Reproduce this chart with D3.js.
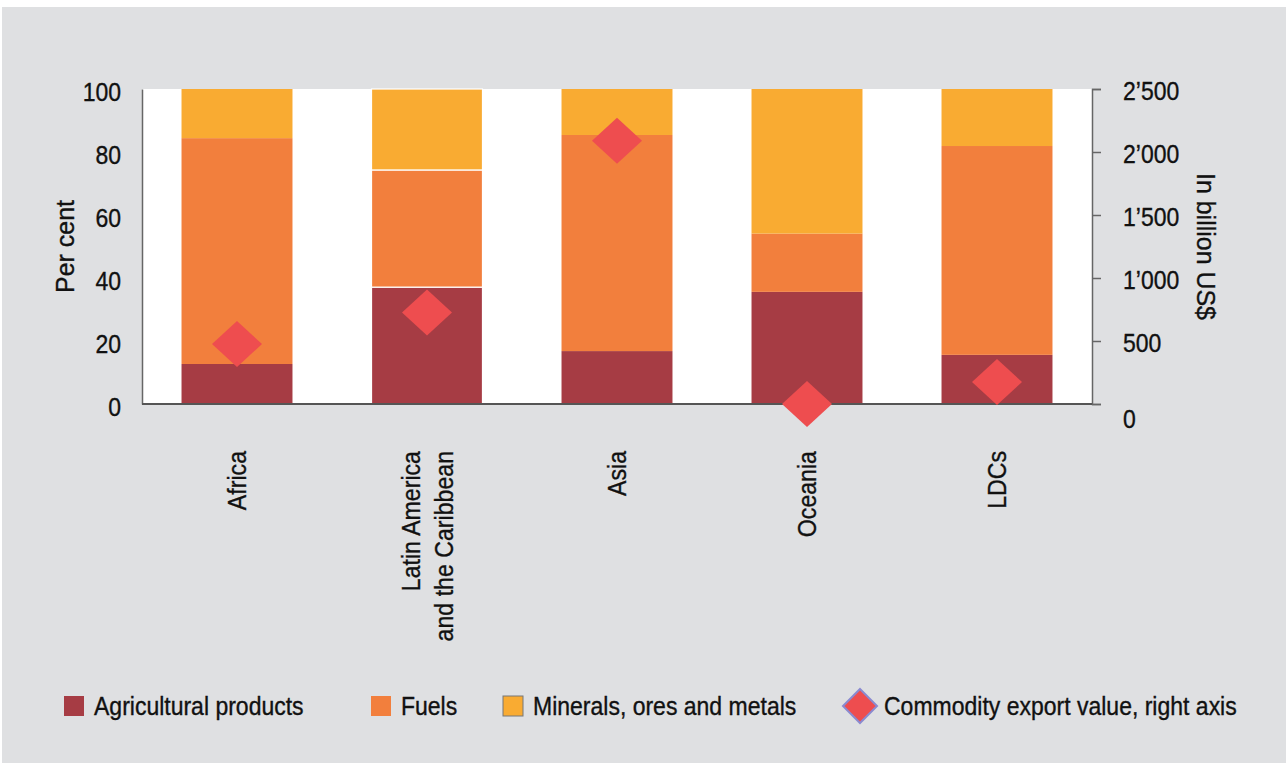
<!DOCTYPE html>
<html>
<head>
<meta charset="utf-8">
<script src="https://cdn.jsdelivr.net/npm/d3@7"></script>
<style>
  body { margin: 0; background: #fff; }
  text { font-family: "Liberation Sans", Arial, sans-serif; fill: #111; stroke: #111; stroke-width: 0.35px; }
</style>
</head>
<body>
<div id="chart"></div>
<script>
// data
var regions = ["Africa", "Latin America|and the Caribbean", "Asia", "Oceania", "LDCs"];
var agricultural = [12.7, 37.1, 16.8, 35.6, 15.6];
var fuels = [71.7, 37.2, 68.6, 18.5, 66.3];
var minerals = [15.6, 25.7, 14.6, 45.9, 18.1];
var exportValue = [476, 726, 2089, 0, 175];   // billion US$, right axis
var leftTicks = [0, 20, 40, 60, 80, 100];
var rightTicks = [0, 500, 1000, 1500, 2000, 2500];
var seriesNames = ["Agricultural products", "Fuels", "Minerals, ores and metals"];
var diamondName = "Commodity export value, right axis";

var colors = ["#a63c44", "#f27f3d", "#f9ab32"];
var diamondColor = "#ee4d4f";

var width = 1286, height = 763;
var margin = {left: 142, top: 89, right: 194, bottom: 359};
var drawWidth = width - margin.left - margin.right;
var drawHeight = height - margin.top - margin.bottom;
var squeeze = 0.92;   // the original font is a condensed face

var data = regions.map(function(r, i){
  return {region: r, agri: agricultural[i], fuels: fuels[i], minerals: minerals[i], value: exportValue[i]};
});

var svg = d3.select("#chart").append("svg")
  .attr("width", width).attr("height", height);

// grey panel
svg.append("rect").attr("x", 2).attr("y", 7)
  .attr("width", width - 2).attr("height", height - 7)
  .attr("fill", "#dfe0e2");

var canvas = svg.append("g")
  .attr("transform", "translate(" + margin.left + "," + margin.top + ")");

canvas.append("rect").attr("width", drawWidth).attr("height", drawHeight).attr("fill", "#fff");

var x = d3.scaleBand().domain(regions).range([0, drawWidth]).paddingInner(0.416).paddingOuter(0.208);
var y = d3.scaleLinear().domain([0, 100]).range([drawHeight, 0]);
var y2 = d3.scaleLinear().domain([0, 2500]).range([drawHeight, 0]);

var stack = d3.stack().keys(["agri", "fuels", "minerals"]);
var layers = stack(data);

canvas.selectAll(".layer").data(layers).enter().append("g")
  .attr("class", "layer")
  .attr("fill", function(d, i){ return colors[i]; })
  .selectAll("rect").data(function(d){ return d; }).enter().append("rect")
    .attr("x", function(d){ return x(d.data.region); })
    .attr("y", function(d){ return y(d[1]); })
    .attr("width", x.bandwidth())
    .attr("height", function(d){ return y(d[0]) - y(d[1]); })
    .attr("stroke", function(d, i){ return i == 1 ? "#fff" : "none"; })
    .attr("stroke-width", 1.2);

// axes
var apos = d3.formatLocale({decimal: ".", thousands: "\u2019", grouping: [3], currency: ["", ""]});

var leftAxis = canvas.append("g").attr("class", "y-axis")
  .call(d3.axisLeft(y).tickValues(leftTicks).tickSize(0).tickPadding(21));
leftAxis.select(".domain").attr("stroke", "#666").attr("stroke-width", 1.5);
leftAxis.selectAll("text").style("font-size", "25px").attr("dy", "0.45em")
  .attr("x", -21 / squeeze)
  .attr("transform", "scale(" + squeeze + ",1)");

var rightAxis = canvas.append("g").attr("class", "y2-axis")
  .attr("transform", "translate(" + drawWidth + ",0)")
  .call(d3.axisRight(y2).tickValues(rightTicks).tickSize(9).tickPadding(22).tickFormat(apos.format(",")));
rightAxis.select(".domain").attr("stroke", "#666").attr("stroke-width", 1.5);
rightAxis.selectAll("line").attr("stroke", "#666").attr("stroke-width", 1.5);
rightAxis.selectAll("text").style("font-size", "25px")
  .attr("dy", function(d){ return d == 0 ? "0.95em" : "0.4em"; })
  .attr("x", 31 / squeeze)
  .attr("transform", "scale(" + squeeze + ",1)");

canvas.append("line").attr("x1", 0).attr("x2", drawWidth)
  .attr("y1", drawHeight).attr("y2", drawHeight)
  .attr("stroke", "#555").attr("stroke-width", 2);

// axis titles
canvas.append("text")
  .attr("transform", "translate(-77," + (drawHeight / 2) + ") rotate(-90) scale(0.96,1)")
  .attr("text-anchor", "middle").attr("dy", "0.35em")
  .style("font-size", "26px").text("Per cent");

canvas.append("text")
  .attr("transform", "translate(" + (drawWidth + 114) + "," + (drawHeight / 2) + ") rotate(90) scale(0.96,1)")
  .attr("text-anchor", "middle").attr("dy", "0.35em")
  .style("font-size", "26px").text("In billion US$");

// category labels
var cats = canvas.selectAll(".cat").data(regions).enter().append("text")
  .attr("class", "cat")
  .attr("transform", function(d){
    return "translate(" + (x(d) + x.bandwidth() / 2) + "," + (drawHeight + 47) + ") rotate(-90) scale(0.89,1)";
  })
  .attr("text-anchor", "end")
  .style("font-size", "26px");
cats.each(function(d){
  var lines = d.split("|");
  var t = d3.select(this);
  lines.forEach(function(l, j){
    t.append("tspan").attr("x", 0)
      .attr("y", (j - (lines.length - 1) / 2) * 33)
      .attr("dy", "0.35em").text(l);
  });
});

// diamonds
function diamond(hw, hh){
  return "M0," + (-hh) + "L" + hw + ",0L0," + hh + "L" + (-hw) + ",0Z";
}
canvas.selectAll(".dia").data(data).enter().append("path")
  .attr("class", "dia")
  .attr("d", diamond(25, 23))
  .attr("transform", function(d){
    return "translate(" + (x(d.region) + x.bandwidth() / 2) + "," + y2(d.value) + ")";
  })
  .attr("fill", diamondColor);

// legend
var legendX = [64, 371, 503];
var legend = svg.append("g").attr("transform", "translate(0,706)");
seriesNames.forEach(function(name, i){
  legend.append("rect").attr("x", legendX[i]).attr("y", -10)
    .attr("width", 20).attr("height", 20)
    .attr("fill", colors[i])
    .attr("stroke", i == 2 ? "#777" : "none").attr("stroke-width", 1);
  legend.append("text")
    .attr("transform", "translate(" + (legendX[i] + 30) + ",0) scale(" + squeeze + ",1)")
    .attr("dy", "0.36em")
    .style("font-size", "25px").text(name);
});
legend.append("path").attr("d", diamond(17, 17))
  .attr("transform", "translate(860,0)")
  .attr("fill", diamondColor).attr("stroke", "#8a8ad0").attr("stroke-width", 2);
legend.append("text")
  .attr("transform", "translate(884,0) scale(" + squeeze + ",1)")
  .attr("dy", "0.36em")
  .style("font-size", "25px").text(diamondName);
</script>
</body>
</html>
